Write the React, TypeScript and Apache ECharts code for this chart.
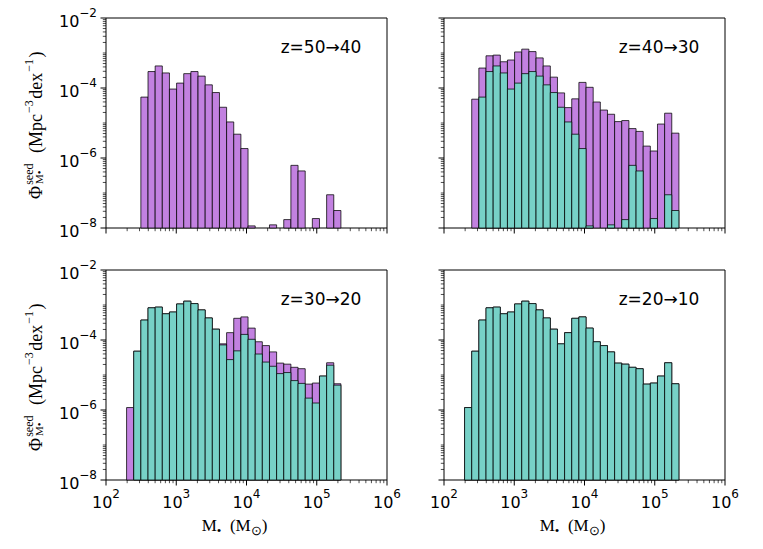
import React, { useEffect, useRef } from "react";
import * as echarts from "echarts";

// ---------- data ----------
const panelTitles = ["z=50→40", "z=40→30", "z=30→20", "z=20→10"];

// histogram bins in log10(M•/M⊙): 30 bins
const binLogMLo = 2.293;
const binLogMStep = 0.1017;
const binCount = 30;

// log10 Φ (Mpc^-3 dex^-1) per bin, null = empty bin
const logPhi_z40 = [null, null, -4.26, -3.53, -3.37, -3.57, -4.03, -3.86, -3.59, -3.53, -3.66, -3.91, -4.13, -4.55, -4.97, -5.32, -5.73, -7.94, null, null, -7.91, null, -7.76, -6.21, -6.37, null, -7.73, null, -7.05, -7.5];
const logPhi_z30 = [null, -4.32, -3.43, -3.08, -3.06, -3.25, -3.2, -2.97, -2.89, -2.96, -3.14, -3.37, -3.69, -4.14, -4.56, -4.31, -3.84, -3.98, -4.4, -4.63, -4.75, -4.96, -4.93, -5.16, -5.24, -5.66, -5.8, -5.03, -4.72, -5.29];
const logPhi_z20 = [-5.93, -4.32, -3.43, -3.08, -3.06, -3.25, -3.2, -2.97, -2.89, -2.96, -3.14, -3.37, -3.69, -4.11, -3.79, -3.38, -3.34, -3.66, -4.05, -4.16, -4.34, -4.66, -4.69, -4.78, -4.82, -5.26, -5.23, -5.03, -4.65, -5.25];
const logPhi_z10 = [-5.93, -4.32, -3.43, -3.08, -3.06, -3.25, -3.2, -2.97, -2.89, -2.96, -3.14, -3.37, -3.69, -4.11, -3.79, -3.38, -3.34, -3.66, -4.05, -4.16, -4.34, -4.66, -4.69, -4.78, -4.82, -5.26, -5.23, -5.03, -4.65, -5.25];

// each panel: purple = population at end of interval, cyan = at start
const panelPurple = [logPhi_z40, logPhi_z30, logPhi_z20, logPhi_z10];
const panelCyan: any[] = [null, logPhi_z40, logPhi_z30, logPhi_z20];

// axes
const X_MIN = 1e2;
const X_MAX = 1e6;
const Y_MIN = 1e-8;
const Y_MAX = 1e-2;
const xMajorExponents = [2, 3, 4, 5, 6];
const yDecadeExponents = [-8, -7, -6, -5, -4, -3, -2];
const yLabelStep = 2;
const minorMultipliers = [2, 3, 4, 5, 6, 7, 8, 9];

// ---------- style ----------
const PURPLE = "#c281e0";
const CYAN = "#77d1c7";
const EDGE = "rgba(0,0,0,0.75)";
const SANS = "DejaVu Sans";
const SERIF = "Liberation Serif";

const grids = [
  { left: 106, top: 18, width: 281, height: 210 },
  { left: 444, top: 18, width: 281, height: 210 },
  { left: 106, top: 270, width: 281, height: 210 },
  { left: 444, top: 270, width: 281, height: 210 },
];

function binRows(logPhi: (number | null)[]) {
  const rows: number[][] = [];
  for (let i = 0; i < binCount; i++) {
    const v = logPhi[i];
    if (v == null) continue;
    const lo = Math.pow(10, binLogMLo + i * binLogMStep);
    const hi = Math.pow(10, binLogMLo + (i + 1) * binLogMStep);
    rows.push([lo, hi, Math.pow(10, v)]);
  }
  return rows;
}

function tickRows() {
  const rows: number[][] = [];
  // x ticks: [x, y, major?, axis(0=x)]
  xMajorExponents.forEach((e) => rows.push([Math.pow(10, e), Y_MIN, 1, 0]));
  xMajorExponents.slice(0, -1).forEach((e) =>
    minorMultipliers.forEach((m) => rows.push([m * Math.pow(10, e), Y_MIN, 0, 0]))
  );
  // y ticks
  yDecadeExponents.forEach((e) =>
    rows.push([X_MIN, Math.pow(10, e), (e - yDecadeExponents[0]) % yLabelStep === 0 ? 1 : 0, 1])
  );
  yDecadeExponents.slice(0, -1).forEach((e) =>
    minorMultipliers.forEach((m) => rows.push([X_MIN, m * Math.pow(10, e), 0, 1]))
  );
  return rows;
}

const labelRich = {
  b: { fontFamily: SANS, fontSize: 16, lineHeight: 22, verticalAlign: "bottom", color: "#000" },
  s: { fontFamily: SANS, fontSize: 12, lineHeight: 11, verticalAlign: "top", color: "#000" },
};

function expOf(v: number) {
  return Math.round(Math.log10(v));
}

function supText(e: number) {
  return e < 0 ? "\u2212" + Math.abs(e) : String(e);
}

export default function App() {
  const ref = useRef<HTMLDivElement>(null);
  useEffect(() => {
    if (!ref.current) return;
    const chart = echarts.init(ref.current, undefined, { renderer: "svg" });
    const ticks = tickRows();

    const xAxis = grids.map((_, i) => ({
      type: "log",
      logBase: 10,
      gridIndex: i,
      min: X_MIN,
      max: X_MAX,
      axisLine: { show: false },
      axisTick: { show: false },
      minorTick: { show: false },
      splitLine: { show: false },
      axisLabel: {
        show: i >= 2,
        margin: 8,
        showMinLabel: true,
        showMaxLabel: true,
        formatter: (v: number) => `{b|10}{s|${supText(expOf(v))}}`,
        rich: labelRich,
      },
    }));

    const yAxis = grids.map((_, i) => ({
      type: "log",
      logBase: 10,
      gridIndex: i,
      min: Y_MIN,
      max: Y_MAX,
      axisLine: { show: false },
      axisTick: { show: false },
      minorTick: { show: false },
      splitLine: { show: false },
      axisLabel: {
        show: i % 2 === 0,
        margin: 9,
        showMinLabel: true,
        showMaxLabel: true,
        formatter: (v: number) => {
          const e = expOf(v);
          if ((e - yDecadeExponents[0]) % yLabelStep !== 0) return "";
          return `{b|10}{s|${supText(e)}}`;
        },
        rich: labelRich,
      },
    }));

    const barSeries = (data: number[][], color: string, i: number) => ({
      type: "custom",
      xAxisIndex: i,
      yAxisIndex: i,
      clip: false,
      encode: { x: [0, 1], y: 2 },
      data,
      renderItem: (params: any, api: any) => {
        const p0 = api.coord([api.value(0), api.value(2)]);
        const p1 = api.coord([api.value(1), Y_MIN]);
        return {
          type: "rect",
          shape: { x: p0[0], y: p0[1], width: p1[0] - p0[0], height: p1[1] - p0[1] },
          style: { fill: color, stroke: EDGE, lineWidth: 1 },
        };
      },
    });

    const series: any[] = [];
    grids.forEach((_, i) => {
      series.push(barSeries(binRows(panelPurple[i]), PURPLE, i));
      const c = panelCyan[i];
      if (c) series.push(barSeries(binRows(c), CYAN, i));
      series.push({
        type: "custom",
        xAxisIndex: i,
        yAxisIndex: i,
        clip: false,
        silent: true,
        encode: { x: 0, y: 1 },
        data: ticks,
        z: 5,
        renderItem: (params: any, api: any) => {
          const p = api.coord([api.value(0), api.value(1)]);
          const major = api.value(2) === 1;
          const len = major ? 5.5 : 3.2;
          const isX = api.value(3) === 0;
          return {
            type: "line",
            shape: isX
              ? { x1: p[0], y1: p[1], x2: p[0], y2: p[1] + len }
              : { x1: p[0] - len, y1: p[1], x2: p[0], y2: p[1] },
            style: { stroke: "#000", lineWidth: major ? 1 : 0.7 },
          };
        },
      });
    });

    const titleEls = grids.map((g, i) => ({
      type: "text",
      x: g.left + 215,
      y: g.top + 29,
      style: {
        text: panelTitles[i],
        font: `17px "${SANS}"`,
        fill: "#000",
        align: "center",
        verticalAlign: "middle",
        textAlign: "center",
        textVerticalAlign: "middle",
      },
    }));

    const yNameRich = {
      m: { fontFamily: SERIF, fontSize: 18, lineHeight: 22, verticalAlign: "bottom", color: "#000" },
      s: { fontFamily: SERIF, fontSize: 12, lineHeight: 11, verticalAlign: "top", color: "#000", padding: [0, 1.5, 0, 1] },
    };
    const yNameEls = [grids[0], grids[2]].map((g) => ({
      type: "group",
      x: 33.5,
      y: g.top + 181,
      rotation: Math.PI / 2,
      children: [
        {
          type: "text",
          x: 0,
          y: 0,
          style: {
            text: "{m|Φ}{s|seed}{m|  (Mpc}{s|\u22123}{m|dex}{s|\u22121}{m|)}",
            rich: yNameRich,
            align: "left",
            verticalAlign: "middle",
            textAlign: "left",
            textVerticalAlign: "middle",
          },
        },
        {
          type: "text",
          x: 15,
          y: 5.5,
          style: {
            text: "M•",
            font: `11px "${SERIF}"`,
            fill: "#000",
            align: "left",
            verticalAlign: "middle",
            textAlign: "left",
            textVerticalAlign: "middle",
          },
        },
      ],
    }));

    const xNameRich = {
      m: { fontFamily: SERIF, fontSize: 17, lineHeight: 20, verticalAlign: "top", color: "#000" },
      s: { fontFamily: SERIF, fontSize: 13, lineHeight: 12, verticalAlign: "bottom", color: "#000" },
    };
    const xNameEls = [grids[2], grids[3]].map((g) => ({
      type: "text",
      x: g.left + 128.5,
      y: 527,
      style: {
        text: "{m|M}{s|•}{m|  (M}{s|⊙}{m|)}",
        rich: xNameRich,
        align: "center",
        verticalAlign: "middle",
        textAlign: "center",
        textVerticalAlign: "middle",
      },
    }));

    chart.setOption({
      animation: false,
      backgroundColor: "#fff",
      grid: grids.map((g) => ({ ...g, show: true, borderColor: "#000", borderWidth: 1, backgroundColor: "transparent" })),
      xAxis,
      yAxis,
      series,
      graphic: { elements: [...titleEls, ...yNameEls, ...xNameEls] },
    } as any);
    return () => chart.dispose();
  }, []);
  return <div ref={ref} style={{ position: "absolute", left: 0, top: 0, width: 763, height: 549 }} />;
}
